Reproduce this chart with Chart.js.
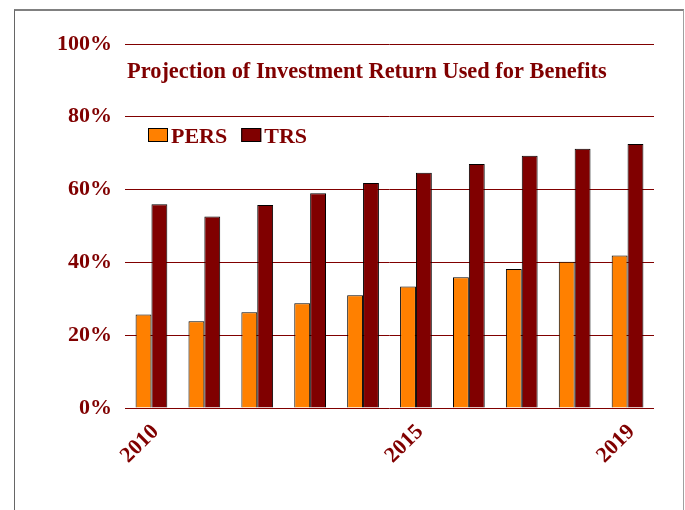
<!DOCTYPE html>
<html>
<head>
<meta charset="utf-8">
<script src="https://cdn.jsdelivr.net/npm/chart.js@4/dist/chart.umd.min.js"></script>
<style>
  html, body { margin: 0; padding: 0; background: #fff; }
  #wrap { position: relative; width: 685px; height: 510px; }
  #frame { position: absolute; left: 14px; top: 9px; width: 668px; height: 520px;
           border-top: 2px solid #808080; border-left: 1px solid #666; border-right: 1px solid #a0a0a0; pointer-events: none; }
  canvas { position: absolute; left: 0; top: 0; }
</style>
</head>
<body>
<div id="wrap">
  <div id="frame"></div>
  <canvas id="c" width="685" height="510"></canvas>
</div>
<script>
const categories = ['2010','2011','2012','2013','2014','2015','2016','2017','2018','2019'];
const shownLabels = ['2010','2015','2019'];
const persValues = [25.7, 23.8, 26.3, 28.8, 31.0, 33.4, 35.9, 38.2, 40.2, 41.9];
const trsValues  = [56.0, 52.6, 55.8, 59.0, 61.8, 64.6, 67.0, 69.3, 71.2, 72.5];
const seriesNames = ['PERS', 'TRS'];
const yTicks = [0, 20, 40, 60, 80, 100];
const titleText = 'Projection of Investment Return Used for Benefits';

const MAROON = '#800000';
const FONT = '"Liberation Serif", "Times New Roman", Times, serif';

const overlayPlugin = {
  id: 'overlay',
  afterDraw(chart) {
    const ctx = chart.ctx;
    const area = chart.chartArea;
    ctx.save();
    // title
    ctx.fillStyle = MAROON;
    ctx.font = 'bold 22.4px ' + FONT;
    ctx.textAlign = 'left';
    ctx.textBaseline = 'alphabetic';
    ctx.fillText(titleText, area.left + 2, 78);
    // legend
    ctx.font = 'bold 22px ' + FONT;
    let x = 148;
    const y = 128;
    chart.data.datasets.forEach(ds => {
      ctx.fillStyle = ds.backgroundColor;
      ctx.fillRect(x, y, 20, 14);
      ctx.strokeStyle = '#000';
      ctx.lineWidth = 1;
      ctx.strokeRect(x + 0.5, y + 0.5, 19, 13);
      ctx.fillStyle = MAROON;
      ctx.fillText(ds.label, x + 23, 143);
      x += 23 + ctx.measureText(ds.label).width + 14;
    });
    ctx.restore();
  }
};

new Chart(document.getElementById('c'), {
  type: 'bar',
  data: {
    labels: categories,
    datasets: [
      { label: seriesNames[0], data: persValues, backgroundColor: '#FF8000', borderColor: '#000', borderWidth: 1 },
      { label: seriesNames[1], data: trsValues, backgroundColor: '#800000', borderColor: '#000', borderWidth: 1 }
    ]
  },
  options: {
    responsive: false,
    animation: false,
    devicePixelRatio: 1,
    layout: { padding: { top: 44, right: 31, left: 0, bottom: 0 } },
    datasets: { bar: { categoryPercentage: 0.6, barPercentage: 1.0 } },
    plugins: { legend: { display: false }, title: { display: false }, tooltip: { enabled: false } },
    scales: {
      x: {
        grid: { display: false },
        border: { display: false },
        afterFit(scale) { scale.height = 102; },
        ticks: {
          autoSkip: false,
          maxRotation: 45, minRotation: 45,
          padding: 3,
          labelOffset: 4,
          color: MAROON,
          font: { family: FONT, size: 22, weight: 'bold' },
          callback(value, index) {
            const l = categories[index];
            return shownLabels.includes(l) ? l : '';
          }
        }
      },
      y: {
        min: 0, max: 100,
        afterFit(scale) { scale.width = 125; },
        afterBuildTicks(scale) { scale.ticks = yTicks.map(v => ({ value: v })); },
        grid: { color: MAROON, lineWidth: 1, drawTicks: false },
        border: { display: false },
        ticks: {
          padding: 13,
          color: MAROON,
          font: { family: FONT, size: 22, weight: 'bold' },
          callback(v) { return v + '%'; }
        }
      }
    }
  },
  plugins: [overlayPlugin]
});
</script>
</body>
</html>
